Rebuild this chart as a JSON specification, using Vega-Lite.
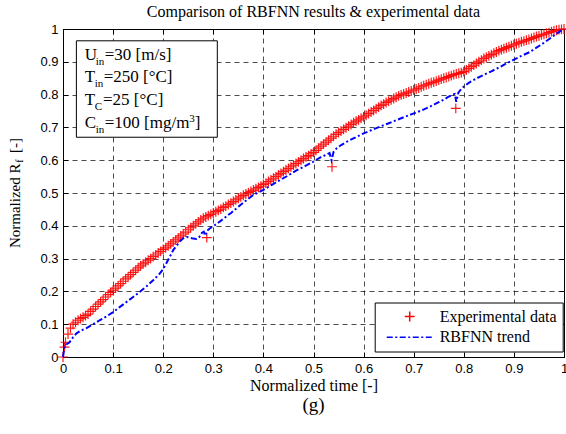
{
"$schema":"https://vega.github.io/schema/vega-lite/v6.json",
"width":501,"height":328,
"autosize":{"type":"none"},
"padding":{"left":63,"top":29,"right":2,"bottom":77},
"background":"white",
"title":{"text":"Comparison of RBFNN results & experimental data","font":"Liberation Serif","fontSize":16,"fontWeight":"normal","color":"#000","offset":2,"frame":"group","anchor":"middle"},
"datasets":{
"exp":[{"t":0,"v":0},{"t":0.003,"v":0.03},{"t":0.005,"v":0.045},{"t":0.01,"v":0.07},{"t":0.015,"v":0.088},{"t":0.02,"v":0.1},{"t":0.025,"v":0.106},{"t":0.03,"v":0.112},{"t":0.035,"v":0.117},{"t":0.04,"v":0.121},{"t":0.045,"v":0.126},{"t":0.05,"v":0.131},{"t":0.055,"v":0.139},{"t":0.06,"v":0.146},{"t":0.065,"v":0.154},{"t":0.07,"v":0.161},{"t":0.075,"v":0.168},{"t":0.08,"v":0.175},{"t":0.085,"v":0.183},{"t":0.09,"v":0.19},{"t":0.095,"v":0.197},{"t":0.1,"v":0.204},{"t":0.105,"v":0.21},{"t":0.11,"v":0.217},{"t":0.115,"v":0.224},{"t":0.12,"v":0.231},{"t":0.125,"v":0.238},{"t":0.13,"v":0.244},{"t":0.135,"v":0.251},{"t":0.14,"v":0.258},{"t":0.145,"v":0.265},{"t":0.15,"v":0.272},{"t":0.155,"v":0.278},{"t":0.16,"v":0.284},{"t":0.165,"v":0.289},{"t":0.17,"v":0.295},{"t":0.175,"v":0.3},{"t":0.18,"v":0.306},{"t":0.185,"v":0.311},{"t":0.19,"v":0.317},{"t":0.195,"v":0.322},{"t":0.2,"v":0.328},{"t":0.205,"v":0.333},{"t":0.21,"v":0.339},{"t":0.215,"v":0.345},{"t":0.22,"v":0.351},{"t":0.225,"v":0.357},{"t":0.23,"v":0.363},{"t":0.235,"v":0.369},{"t":0.24,"v":0.375},{"t":0.245,"v":0.381},{"t":0.25,"v":0.388},{"t":0.255,"v":0.394},{"t":0.26,"v":0.4},{"t":0.265,"v":0.406},{"t":0.27,"v":0.412},{"t":0.275,"v":0.418},{"t":0.28,"v":0.423},{"t":0.285,"v":0.427},{"t":0.287,"v":0.364},{"t":0.29,"v":0.431},{"t":0.295,"v":0.435},{"t":0.3,"v":0.439},{"t":0.305,"v":0.443},{"t":0.31,"v":0.447},{"t":0.315,"v":0.451},{"t":0.32,"v":0.456},{"t":0.325,"v":0.46},{"t":0.33,"v":0.465},{"t":0.335,"v":0.469},{"t":0.34,"v":0.474},{"t":0.345,"v":0.479},{"t":0.35,"v":0.484},{"t":0.355,"v":0.488},{"t":0.36,"v":0.493},{"t":0.365,"v":0.497},{"t":0.37,"v":0.501},{"t":0.375,"v":0.505},{"t":0.38,"v":0.509},{"t":0.385,"v":0.513},{"t":0.39,"v":0.517},{"t":0.395,"v":0.521},{"t":0.4,"v":0.526},{"t":0.405,"v":0.53},{"t":0.41,"v":0.535},{"t":0.415,"v":0.54},{"t":0.42,"v":0.545},{"t":0.425,"v":0.55},{"t":0.43,"v":0.555},{"t":0.435,"v":0.56},{"t":0.44,"v":0.565},{"t":0.445,"v":0.57},{"t":0.45,"v":0.575},{"t":0.455,"v":0.58},{"t":0.46,"v":0.585},{"t":0.465,"v":0.59},{"t":0.47,"v":0.595},{"t":0.475,"v":0.6},{"t":0.48,"v":0.605},{"t":0.485,"v":0.61},{"t":0.49,"v":0.614},{"t":0.495,"v":0.619},{"t":0.5,"v":0.624},{"t":0.505,"v":0.63},{"t":0.51,"v":0.637},{"t":0.515,"v":0.643},{"t":0.52,"v":0.649},{"t":0.525,"v":0.655},{"t":0.53,"v":0.661},{"t":0.535,"v":0.667},{"t":0.537,"v":0.58},{"t":0.54,"v":0.673},{"t":0.545,"v":0.679},{"t":0.55,"v":0.684},{"t":0.555,"v":0.689},{"t":0.56,"v":0.694},{"t":0.565,"v":0.699},{"t":0.57,"v":0.704},{"t":0.575,"v":0.709},{"t":0.58,"v":0.714},{"t":0.585,"v":0.719},{"t":0.59,"v":0.723},{"t":0.595,"v":0.728},{"t":0.6,"v":0.732},{"t":0.605,"v":0.737},{"t":0.61,"v":0.742},{"t":0.615,"v":0.747},{"t":0.62,"v":0.752},{"t":0.625,"v":0.757},{"t":0.63,"v":0.762},{"t":0.635,"v":0.767},{"t":0.64,"v":0.771},{"t":0.645,"v":0.776},{"t":0.65,"v":0.78},{"t":0.655,"v":0.784},{"t":0.66,"v":0.788},{"t":0.665,"v":0.792},{"t":0.67,"v":0.796},{"t":0.675,"v":0.799},{"t":0.68,"v":0.802},{"t":0.685,"v":0.805},{"t":0.69,"v":0.808},{"t":0.695,"v":0.811},{"t":0.7,"v":0.814},{"t":0.705,"v":0.817},{"t":0.71,"v":0.82},{"t":0.715,"v":0.824},{"t":0.72,"v":0.827},{"t":0.725,"v":0.83},{"t":0.73,"v":0.833},{"t":0.735,"v":0.836},{"t":0.74,"v":0.838},{"t":0.745,"v":0.841},{"t":0.75,"v":0.844},{"t":0.755,"v":0.847},{"t":0.76,"v":0.85},{"t":0.765,"v":0.852},{"t":0.77,"v":0.855},{"t":0.775,"v":0.858},{"t":0.78,"v":0.861},{"t":0.784,"v":0.758},{"t":0.785,"v":0.863},{"t":0.79,"v":0.865},{"t":0.795,"v":0.867},{"t":0.8,"v":0.87},{"t":0.805,"v":0.875},{"t":0.81,"v":0.88},{"t":0.815,"v":0.885},{"t":0.82,"v":0.89},{"t":0.825,"v":0.895},{"t":0.83,"v":0.9},{"t":0.835,"v":0.905},{"t":0.84,"v":0.91},{"t":0.845,"v":0.914},{"t":0.85,"v":0.918},{"t":0.855,"v":0.922},{"t":0.86,"v":0.926},{"t":0.865,"v":0.93},{"t":0.87,"v":0.934},{"t":0.875,"v":0.937},{"t":0.88,"v":0.94},{"t":0.885,"v":0.943},{"t":0.89,"v":0.946},{"t":0.895,"v":0.949},{"t":0.9,"v":0.952},{"t":0.905,"v":0.955},{"t":0.91,"v":0.958},{"t":0.915,"v":0.961},{"t":0.92,"v":0.963},{"t":0.925,"v":0.966},{"t":0.93,"v":0.968},{"t":0.935,"v":0.971},{"t":0.94,"v":0.974},{"t":0.945,"v":0.977},{"t":0.95,"v":0.979},{"t":0.955,"v":0.982},{"t":0.96,"v":0.984},{"t":0.965,"v":0.987},{"t":0.97,"v":0.989},{"t":0.975,"v":0.992},{"t":0.98,"v":0.994},{"t":0.985,"v":0.996},{"t":0.99,"v":0.998},{"t":0.995,"v":0.999},{"t":1,"v":1}],
"rbf":[{"t":0,"v":0},{"t":0.003,"v":0.03},{"t":0.008,"v":0.04},{"t":0.013,"v":0.045},{"t":0.02,"v":0.06},{"t":0.027,"v":0.072},{"t":0.035,"v":0.08},{"t":0.047,"v":0.088},{"t":0.06,"v":0.1},{"t":0.073,"v":0.112},{"t":0.087,"v":0.124},{"t":0.1,"v":0.137},{"t":0.113,"v":0.152},{"t":0.127,"v":0.168},{"t":0.14,"v":0.183},{"t":0.153,"v":0.198},{"t":0.167,"v":0.216},{"t":0.18,"v":0.234},{"t":0.193,"v":0.254},{"t":0.2,"v":0.268},{"t":0.206,"v":0.285},{"t":0.213,"v":0.305},{"t":0.22,"v":0.326},{"t":0.227,"v":0.34},{"t":0.233,"v":0.352},{"t":0.24,"v":0.362},{"t":0.247,"v":0.366},{"t":0.253,"v":0.364},{"t":0.26,"v":0.361},{"t":0.266,"v":0.36},{"t":0.272,"v":0.366},{"t":0.277,"v":0.378},{"t":0.281,"v":0.382},{"t":0.284,"v":0.37},{"t":0.287,"v":0.384},{"t":0.293,"v":0.392},{"t":0.306,"v":0.405},{"t":0.319,"v":0.42},{"t":0.336,"v":0.44},{"t":0.353,"v":0.462},{"t":0.366,"v":0.478},{"t":0.379,"v":0.493},{"t":0.399,"v":0.509},{"t":0.416,"v":0.524},{"t":0.433,"v":0.539},{"t":0.45,"v":0.554},{"t":0.466,"v":0.569},{"t":0.483,"v":0.582},{"t":0.499,"v":0.595},{"t":0.513,"v":0.608},{"t":0.526,"v":0.617},{"t":0.532,"v":0.622},{"t":0.536,"v":0.6},{"t":0.54,"v":0.625},{"t":0.546,"v":0.636},{"t":0.556,"v":0.647},{"t":0.566,"v":0.656},{"t":0.583,"v":0.669},{"t":0.599,"v":0.681},{"t":0.616,"v":0.692},{"t":0.632,"v":0.702},{"t":0.649,"v":0.712},{"t":0.665,"v":0.722},{"t":0.682,"v":0.732},{"t":0.699,"v":0.742},{"t":0.716,"v":0.752},{"t":0.732,"v":0.763},{"t":0.745,"v":0.773},{"t":0.758,"v":0.783},{"t":0.768,"v":0.792},{"t":0.778,"v":0.8},{"t":0.782,"v":0.802},{"t":0.785,"v":0.778},{"t":0.789,"v":0.805},{"t":0.795,"v":0.818},{"t":0.803,"v":0.828},{"t":0.812,"v":0.838},{"t":0.825,"v":0.849},{"t":0.838,"v":0.859},{"t":0.855,"v":0.871},{"t":0.872,"v":0.884},{"t":0.885,"v":0.895},{"t":0.898,"v":0.905},{"t":0.915,"v":0.918},{"t":0.932,"v":0.93},{"t":0.945,"v":0.943},{"t":0.958,"v":0.956},{"t":0.972,"v":0.971},{"t":0.985,"v":0.986},{"t":1,"v":1}],
"box":[{"x":0.0267,"x2":0.308,"y":0.964,"y2":0.67}],
"ann":[{"x":0.0433,"y":0.904,"txt":"U","k":"m"},{"x":0.0653,"y":0.904,"txt":"in","k":"s"},{"x":0.0832,"y":0.904,"txt":"=30 [m/s]","k":"m"},{"x":0.0433,"y":0.837,"txt":"T","k":"m"},{"x":0.0633,"y":0.837,"txt":"in","k":"s"},{"x":0.0812,"y":0.837,"txt":"=250 [°C]","k":"m"},{"x":0.0433,"y":0.768,"txt":"T","k":"m"},{"x":0.0633,"y":0.768,"txt":"C","k":"s"},{"x":0.0799,"y":0.768,"txt":"=25 [°C]","k":"m"},{"x":0.0433,"y":0.698,"txt":"C","k":"m"},{"x":0.0653,"y":0.698,"txt":"in","k":"s"},{"x":0.0832,"y":0.698,"txt":"=100 [mg/m","k":"m"},{"x":0.2518,"y":0.698,"txt":"3","k":"p"},{"x":0.2629,"y":0.698,"txt":"]","k":"m"}],
"ylab":[{"x":-0.085,"y":0.332,"txt":"Normalized R","k":"m"},{"x":-0.085,"y":0.592,"txt":"f","k":"s"},{"x":-0.085,"y":0.622,"txt":"[-]","k":"m"}],
"cap":[{"x":0.5,"y":-0.165,"txt":"(g)"}]
},
"config":{
"view":{"stroke":"#000","strokeWidth":1},
"axis":{"labelFont":"Liberation Sans","labelFontSize":13,"labelColor":"#000","tickColor":"#000","domainColor":"#000","tickSize":-5,"labelPadding":10,"gridColor":"#000","gridDash":[5,4],"gridOpacity":0.7,"titleFont":"Liberation Serif","titleFontSize":16,"titleFontWeight":"normal","titleColor":"#000","labelFlush":false,"labelOverlap":false}
},
"resolve":{"axis":{"x":"independent","y":"independent"}},
"layer":[
{"data":{"name":"exp"},
 "mark":{"type":"point","filled":false,"strokeWidth":1.2,"size":135,"opacity":0.9},
 "encoding":{
  "x":{"field":"t","type":"quantitative","scale":{"domain":[0,1],"nice":false,"zero":false},"axis":{"values":[0,0.1,0.2,0.3,0.4,0.5,0.6,0.7,0.8,0.9,1],"format":"~g","grid":true,"title":"Normalized time [-]","titlePadding":2}},
  "y":{"field":"v","type":"quantitative","scale":{"domain":[0,1],"nice":false,"zero":false},"axis":{"values":[0,0.1,0.2,0.3,0.4,0.5,0.6,0.7,0.8,0.9,1],"format":"~g","grid":true,"title":null}},
  "color":{"datum":"Experimental data","scale":{"domain":["Experimental data","RBFNN trend"],"range":["#ff0000","#0000ff"]},"legend":{"title":null,"orient":"none","legendX":311.7,"legendY":273.5,"strokeColor":"#000","fillColor":"#fff","padding":6,"symbolOffset":21,"labelFont":"Liberation Serif","labelFontSize":16,"labelColor":"#000","labelOffset":22,"rowPadding":4.7,"symbolSize":135,"symbolStrokeWidth":1.5,"symbolOpacity":1}},
  "shape":{"datum":"Experimental data","scale":{"domain":["Experimental data","RBFNN trend"],"range":["M-0.85,0H0.85M0,-0.85V0.85","M-3.95,0H3.95"]},"legend":{"title":null}}
 }},
{"data":{"name":"rbf"},
 "mark":{"type":"line","strokeWidth":2,"interpolate":"linear"},
 "encoding":{
  "x":{"field":"t","type":"quantitative","scale":{"domain":[0,1],"nice":false,"zero":false},"axis":{"orient":"top","values":[0,0.1,0.2,0.3,0.4,0.5,0.6,0.7,0.8,0.9,1],"labels":false,"grid":false,"title":null}},
  "y":{"field":"v","type":"quantitative","scale":{"domain":[0,1],"nice":false,"zero":false},"axis":{"orient":"right","values":[0,0.1,0.2,0.3,0.4,0.5,0.6,0.7,0.8,0.9,1],"labels":false,"grid":false,"title":null}},
  "color":{"datum":"RBFNN trend","scale":{"domain":["Experimental data","RBFNN trend"],"range":["#ff0000","#0000ff"]},"legend":{"title":null}},
  "strokeDash":{"datum":"RBFNN trend","scale":{"domain":["Experimental data","RBFNN trend"],"range":[[1,0],[6,2.5,2,2.5]]},"legend":{"title":null}}
 }},
{"data":{"name":"box"},
 "mark":{"type":"rect","fill":"#fff","stroke":"#000","strokeWidth":1},
 "encoding":{
  "x":{"field":"x","type":"quantitative","scale":{"domain":[0,1]},"axis":null},
  "x2":{"field":"x2"},
  "y":{"field":"y","type":"quantitative","scale":{"domain":[0,1]},"axis":null},
  "y2":{"field":"y2"}
 }},
{"data":{"name":"ann"},
 "transform":[{"filter":"datum.k==='m'"}],
 "mark":{"type":"text","font":"Liberation Serif","fontSize":17,"align":"left","baseline":"alphabetic","color":"#000"},
 "encoding":{
  "x":{"field":"x","type":"quantitative","scale":{"domain":[0,1]},"axis":null},
  "y":{"field":"y","type":"quantitative","scale":{"domain":[0,1]},"axis":null},
  "text":{"field":"txt"}
 }},
{"data":{"name":"ann"},
 "transform":[{"filter":"datum.k==='s'"}],
 "mark":{"type":"text","font":"Liberation Serif","fontSize":11,"align":"left","baseline":"alphabetic","dy":4.5,"color":"#000"},
 "encoding":{
  "x":{"field":"x","type":"quantitative","scale":{"domain":[0,1]},"axis":null},
  "y":{"field":"y","type":"quantitative","scale":{"domain":[0,1]},"axis":null},
  "text":{"field":"txt"}
 }},
{"data":{"name":"ann"},
 "transform":[{"filter":"datum.k==='p'"}],
 "mark":{"type":"text","font":"Liberation Serif","fontSize":11,"align":"left","baseline":"alphabetic","dy":-6,"color":"#000"},
 "encoding":{
  "x":{"field":"x","type":"quantitative","scale":{"domain":[0,1]},"axis":null},
  "y":{"field":"y","type":"quantitative","scale":{"domain":[0,1]},"axis":null},
  "text":{"field":"txt"}
 }},
{"data":{"name":"ylab"},
 "transform":[{"filter":"datum.k==='m'"}],
 "mark":{"type":"text","font":"Liberation Serif","fontSize":15,"align":"left","baseline":"alphabetic","angle":270,"color":"#000"},
 "encoding":{
  "x":{"field":"x","type":"quantitative","scale":{"domain":[0,1]},"axis":null},
  "y":{"field":"y","type":"quantitative","scale":{"domain":[0,1]},"axis":null},
  "text":{"field":"txt"}
 }},
{"data":{"name":"ylab"},
 "transform":[{"filter":"datum.k==='s'"}],
 "mark":{"type":"text","font":"Liberation Serif","fontSize":10,"align":"left","baseline":"alphabetic","angle":270,"dy":3,"color":"#000"},
 "encoding":{
  "x":{"field":"x","type":"quantitative","scale":{"domain":[0,1]},"axis":null},
  "y":{"field":"y","type":"quantitative","scale":{"domain":[0,1]},"axis":null},
  "text":{"field":"txt"}
 }},
{"data":{"name":"cap"},
 "mark":{"type":"text","font":"Liberation Serif","fontSize":19,"align":"center","baseline":"alphabetic","color":"#000"},
 "encoding":{
  "x":{"field":"x","type":"quantitative","scale":{"domain":[0,1]},"axis":null},
  "y":{"field":"y","type":"quantitative","scale":{"domain":[0,1]},"axis":null},
  "text":{"field":"txt"}
 }}
]
}
